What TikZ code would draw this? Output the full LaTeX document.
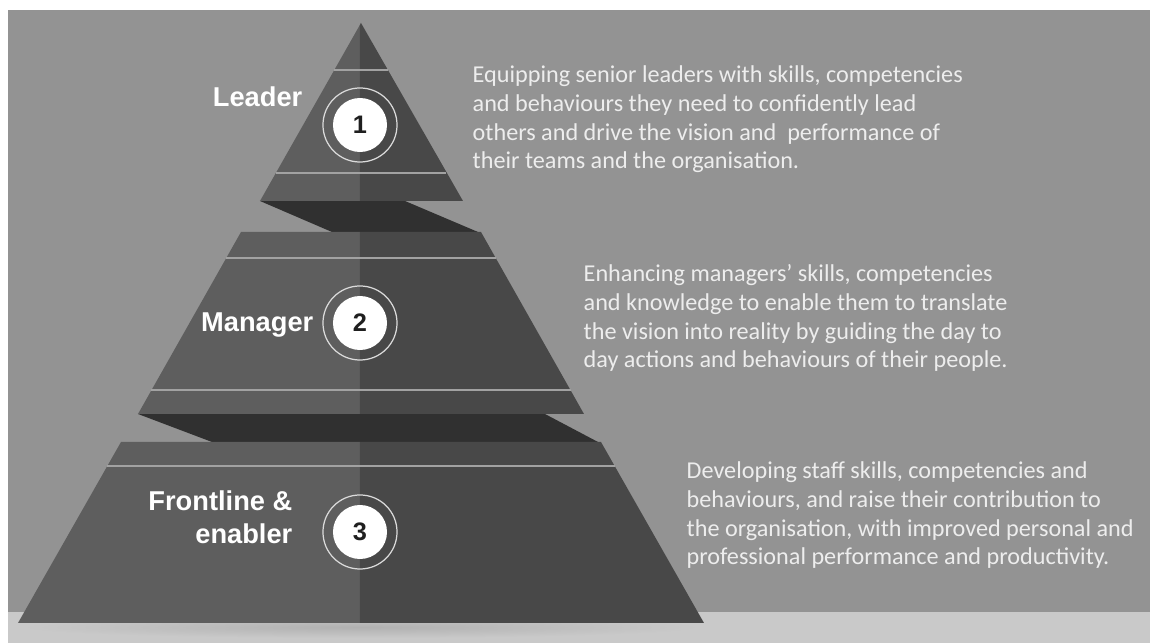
\documentclass[tikz,border=0pt]{standalone}
\usepackage{fontspec}
\setmainfont{Carlito}
\newfontfamily\headfont{Liberation Sans}
\definecolor{bggrey}{HTML}{939393}
\definecolor{floorgrey}{HTML}{C9C9C9}
\definecolor{litface}{HTML}{5E5E5E}
\definecolor{darkface}{HTML}{484848}
\definecolor{dropshade}{HTML}{303030}
\definecolor{seamgrey}{HTML}{A2A2A2}
\tikzset{x=0.01cm,y=-0.01cm}

\begin{document}
\begin{tikzpicture}[
    seam/.style={draw=seamgrey,line width=0.45pt},
    ring/.style={draw=white!86!black,line width=0.35pt},
    disc/.style={circle,fill=white,minimum size=0.54cm,inner sep=0pt,text=black!88,
      font=\headfont\bfseries\fontsize{7.2}{7.2}\selectfont},
    level/.style={text=white,inner sep=0pt,align=right,
      font=\headfont\bfseries\fontsize{7.75}{9.4}\selectfont},
    blurb/.style={text=white!93!black,inner sep=0pt,align=left,
      font=\fontsize{6.88}{8.2}\selectfont}]
  \useasboundingbox (0,0) rectangle (1150,643);
  \fill[white] (0,0) rectangle (1150,643);
  \fill[bggrey] (8,10) rectangle (1150,612);
  \fill[floorgrey] (8,612) rectangle (1150,643);
  \shade[inner color=floorgrey!88!black,outer color=floorgrey]
    (361,627) ellipse [x radius=3.4cm,y radius=0.11cm];

  % leader
  \fill[dropshade] (260,201) -- (405,201) -- (478,232) -- (332,232) -- cycle;
  \fill[litface] (361,23) -- (260,201) -- (360,201) -- (360,25) -- cycle;
  \fill[darkface] (361,23) -- (463,201) -- (360,201) -- (360,25) -- cycle;
  \draw[seam] (334,70) -- (388,70) (276,173) -- (446,173);

  % manager
  \fill[dropshade] (138,414) -- (545,414) -- (598,442) -- (212,442) -- cycle;
  \fill[litface] (241,232) -- (360,232) -- (360,414) -- (138,414) -- cycle;
  \fill[darkface] (360,232) -- (481,232) -- (584,414) -- (360,414) -- cycle;
  \draw[seam] (226,258) -- (496,258) (151,390) -- (571,390);

  % frontline
  \fill[litface] (121,442) -- (360,442) -- (360,623) -- (18,623) -- cycle;
  \fill[darkface] (360,442) -- (601,442) -- (704,623) -- (360,623) -- cycle;
  \draw[seam] (107,466) -- (615,466);

  \node[disc] (c1) at (360,125) {1};
  \node[disc] (c2) at (360,323) {2};
  \node[disc] (c3) at (360,532) {3};
  \draw[ring] (c1.center) circle [radius=0.37cm];
  \draw[ring] (c2.center) circle [radius=0.37cm];
  \draw[ring] (c3.center) circle [radius=0.37cm];

  \node[level,anchor=base east] (lvl1) at (303,107) {Leader};
  \node[level,anchor=base east] (lvl2) at (314,332) {Manager};
  \node[level,anchor=base east] (lvl3) at (293,544) {Frontline \&\\enabler};

  \node[blurb,anchor=base west] (d1) at (472,169)
    {Equipping senior leaders with skills, competencies\\
     and behaviours they need to confidently lead\\
     others and drive the vision and\ \ performance of\\
     their teams and the organisation.};
  \node[blurb,anchor=base west] (d2) at (583,368)
    {Enhancing managers’ skills, competencies\\
     and knowledge to enable them to translate\\
     the vision into reality by guiding the day to\\
     day actions and behaviours of their people.};
  \node[blurb,anchor=base west] (d3) at (686,565)
    {Developing staff skills, competencies and\\
     behaviours, and raise their contribution to\\
     the organisation, with improved personal and\\
     professional performance and productivity.};
\end{tikzpicture}
\end{document}
